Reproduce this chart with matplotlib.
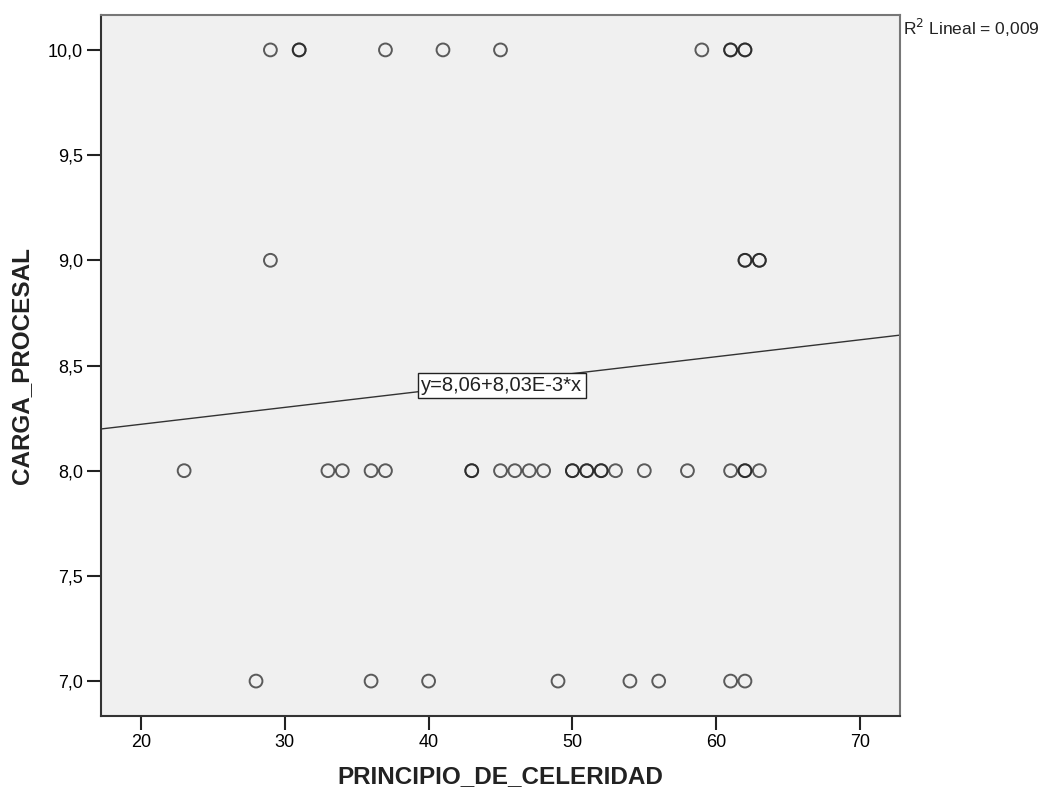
import matplotlib
matplotlib.use("Agg")
import matplotlib.pyplot as plt
import numpy as np

plt.rcParams['font.family'] = ['Liberation Sans', 'DejaVu Sans']

# PRINCIPIO_DE_CELERIDAD (x) vs CARGA_PROCESAL (y), duplicates repeated
celeridad = [29, 31, 31, 37, 41, 45, 59, 61, 61, 62, 62,
             29, 62, 62, 63, 63,
             23, 33, 34, 36, 37, 43, 43, 45, 46, 47, 48, 50, 50, 51, 51,
             52, 52, 53, 55, 58, 61, 62, 62, 63,
             28, 36, 40, 49, 54, 56, 61, 62]
carga = [10.0] * 11 + [9.0] * 5 + [8.0] * 24 + [7.0] * 8

# linear fit reported by the chart
intercept = 8.06
slope = 8.03e-3
r2_text = "R$^2$ Lineal = 0,009"
eq_text = "y=8,06+8,03E-3*x"

x_ticks = [20, 30, 40, 50, 60, 70]
y_ticks = [7.0, 7.5, 8.0, 8.5, 9.0, 9.5, 10.0]

fig = plt.figure(figsize=(10.47, 7.90), dpi=100)
ax = fig.add_axes([101 / 1047, 1 - 716 / 790, 799 / 1047, 701 / 790])
ax.set_facecolor("#f0f0f0")

xlim = (17.22, 72.78)
ylim = (6.834, 10.166)

# fit line across the whole plot
xs = np.array(xlim)
ax.plot(xs, intercept + slope * xs, color="#333333", lw=1.0, zorder=2)

ax.scatter(celeridad, carga, s=85, facecolors="none", edgecolors="#1a1a1a",
           linewidths=1.4, alpha=0.7, zorder=3)

ax.set_xlim(*xlim)
ax.set_ylim(*ylim)
ax.set_xticks(x_ticks)
ax.set_yticks(y_ticks)
ax.set_yticklabels([f"{v:.1f}".replace(".", ",") for v in y_ticks])
ax.tick_params(direction="out", length=10, width=1.5, color="#222222",
               labelsize=13, pad=3)

for sp in ax.spines.values():
    sp.set_color("#333333")
    sp.set_linewidth(1.5)
ax.spines["top"].set_color("#777777")
ax.spines["right"].set_color("#777777")

# equation label centred on the fit line
xm = 45.1
ax.text(xm, intercept + slope * xm - 0.015, eq_text, ha="center", va="center",
        fontsize=14.5, color="#222222", zorder=4,
        bbox=dict(boxstyle="square,pad=0.15", fc="white", ec="#222222", lw=1.0))

fig.text(903 / 1047, 1 - 28 / 790, r2_text, ha="left", va="center",
         fontsize=12.5, color="#222222")

ax.set_xlabel("PRINCIPIO_DE_CELERIDAD", fontsize=17.5, fontweight="bold",
              color="#222222", va="center")
ax.set_ylabel("CARGA_PROCESAL", fontsize=17.5, fontweight="bold",
              color="#222222", va="center")
ax.xaxis.set_label_coords(0.5, (716 - 777) / 701)
ax.yaxis.set_label_coords((22 - 101) / 799, 0.5)

fig.savefig("out.png", dpi=100, facecolor="white")
